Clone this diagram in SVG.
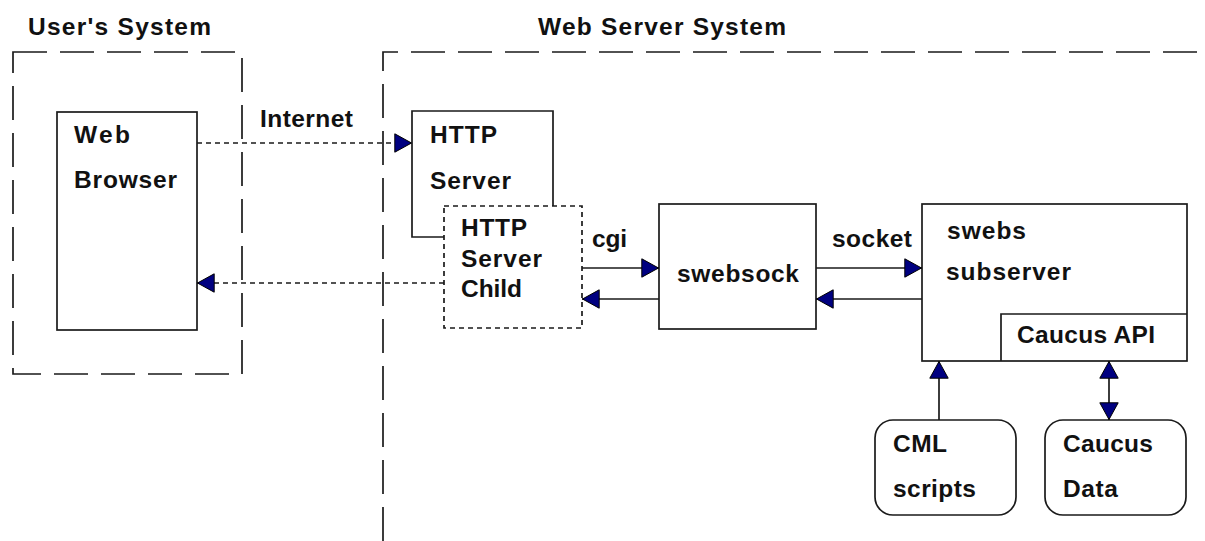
<svg xmlns="http://www.w3.org/2000/svg" width="1205" height="541" viewBox="0 0 1205 541">
<style>
text{font-family:"Liberation Sans",Arial,sans-serif;font-weight:bold;font-size:24.5px;fill:#111}
.box{fill:none;stroke:#1a1a1a;stroke-width:1.7}
.sys{fill:none;stroke:#1a1a1a;stroke-width:1.7;stroke-dasharray:34 13}
.dot{fill:none;stroke:#1a1a1a;stroke-width:1.7;stroke-dasharray:5 4}
.ln{fill:none;stroke:#1a1a1a;stroke-width:1.7}
</style>
<defs>
<marker id="ah" viewBox="0 0 18 20" refX="18" refY="10" markerWidth="18" markerHeight="20" markerUnits="userSpaceOnUse" orient="auto">
<path d="M0.8,0.8 L17.5,10 L0.8,19.2 Z" fill="#000080" stroke="#000" stroke-width="1"/>
</marker>
<marker id="as" viewBox="0 0 18 20" refX="0" refY="10" markerWidth="18" markerHeight="20" markerUnits="userSpaceOnUse" orient="auto">
<path d="M17.2,0.8 L0.5,10 L17.2,19.2 Z" fill="#000080" stroke="#000" stroke-width="1"/>
</marker>
</defs>
<rect width="1205" height="541" fill="#fff"/>
<g id="users-system">
<rect class="sys" x="13" y="52" width="229" height="322"/>
<text x="28" y="35" textLength="183" lengthAdjust="spacing">User's System</text>
</g>
<g id="web-server-system">
<path class="sys" d="M383,541 V52 H1205"/>
<text x="538" y="35" textLength="248" lengthAdjust="spacing">Web Server System</text>
</g>
<g id="web-browser">
<rect class="box" x="57" y="112" width="140" height="218"/>
<text x="74" y="143" textLength="56" lengthAdjust="spacing">Web</text>
<text x="74" y="188" textLength="103" lengthAdjust="spacing">Browser</text>
</g>
<g id="http-server">
<path class="box" d="M553,206 V111 H412 V237 H444"/>
<text x="430" y="143" textLength="67" lengthAdjust="spacing">HTTP</text>
<text x="430" y="189" textLength="81" lengthAdjust="spacing">Server</text>
</g>
<g id="http-server-child">
<rect class="dot" x="444" y="206" width="138" height="122"/>
<text x="461" y="236" textLength="66" lengthAdjust="spacing">HTTP</text>
<text x="461" y="267" textLength="81" lengthAdjust="spacing">Server</text>
<text x="461" y="297" textLength="61" lengthAdjust="spacing">Child</text>
</g>
<g id="swebsock">
<rect class="box" x="659" y="204" width="157" height="125"/>
<text x="677" y="282" textLength="122" lengthAdjust="spacing">swebsock</text>
</g>
<g id="swebs-subserver">
<rect class="box" x="922" y="204" width="265" height="157"/>
<text x="947" y="239" textLength="79" lengthAdjust="spacing">swebs</text>
<text x="946" y="280" textLength="125" lengthAdjust="spacing">subserver</text>
</g>
<g id="caucus-api">
<path class="box" d="M1001,361 V314 H1187"/>
<text x="1017" y="343" textLength="138" lengthAdjust="spacing">Caucus API</text>
</g>
<g id="cml-scripts">
<rect class="box" x="875" y="420" width="141" height="95" rx="18" ry="18"/>
<text x="893" y="452" textLength="54" lengthAdjust="spacing">CML</text>
<text x="893" y="497" textLength="83" lengthAdjust="spacing">scripts</text>
</g>
<g id="caucus-data">
<rect class="box" x="1045" y="420" width="141" height="95" rx="18" ry="18"/>
<text x="1063" y="452" textLength="90" lengthAdjust="spacing">Caucus</text>
<text x="1063" y="497" textLength="55" lengthAdjust="spacing">Data</text>
</g>
<g id="connectors">
<line class="dot" x1="197" y1="143" x2="412" y2="143" marker-end="url(#ah)"/>
<line class="dot" x1="444" y1="283" x2="197" y2="283" marker-end="url(#ah)"/>
<line class="ln" x1="582" y1="268" x2="659" y2="268" marker-end="url(#ah)"/>
<line class="ln" x1="659" y1="299" x2="582" y2="299" marker-end="url(#ah)"/>
<line class="ln" x1="816" y1="268" x2="922" y2="268" marker-end="url(#ah)"/>
<line class="ln" x1="922" y1="299" x2="816" y2="299" marker-end="url(#ah)"/>
<line class="ln" x1="939" y1="420" x2="939" y2="361" marker-end="url(#ah)"/>
<line class="ln" x1="1109" y1="420" x2="1109" y2="361" marker-end="url(#ah)" marker-start="url(#as)"/>
<text x="260" y="127" textLength="93" lengthAdjust="spacing">Internet</text>
<text x="592" y="247" textLength="35" lengthAdjust="spacing">cgi</text>
<text x="832" y="247" textLength="80" lengthAdjust="spacing">socket</text>
</g>
</svg>
